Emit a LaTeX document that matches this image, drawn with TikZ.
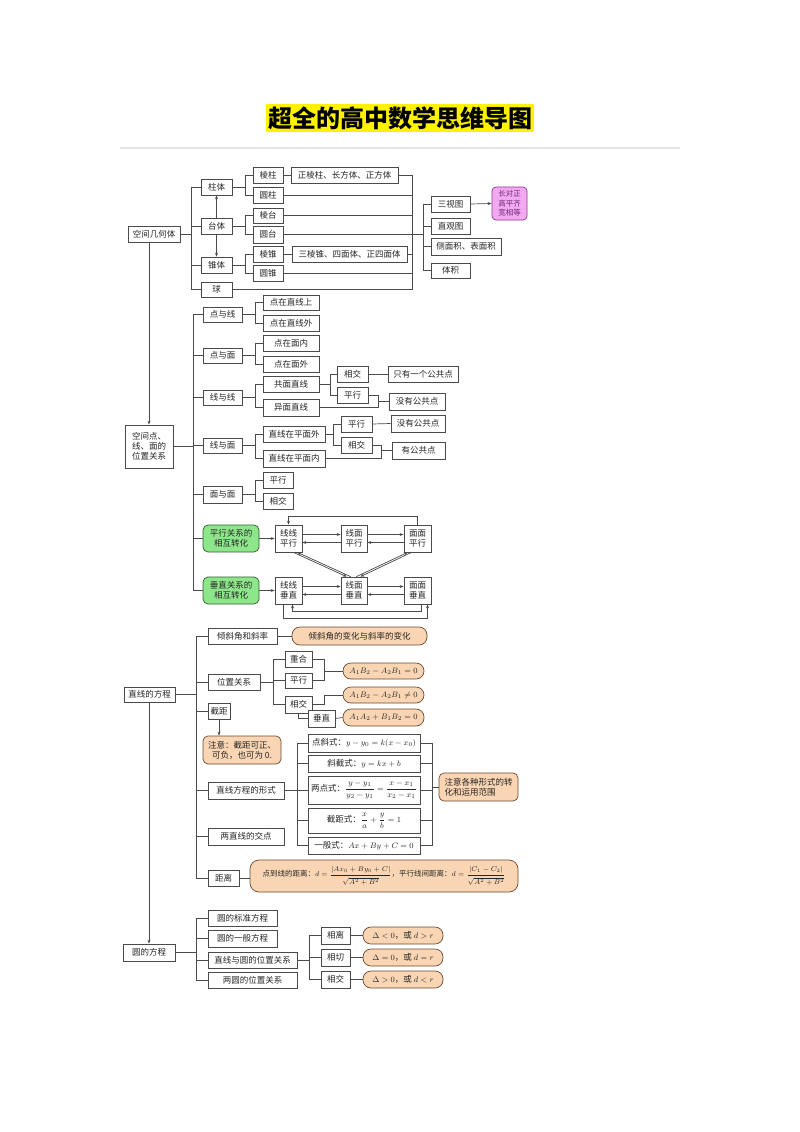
\documentclass[tikz,border=0pt]{standalone}
\usepackage[no-math]{fontspec}
\usepackage{amsmath}
\setmainfont{Noto Sans CJK SC}
\usetikzlibrary{arrows.meta}
\definecolor{ln}{HTML}{4A4A4A}
\definecolor{orf}{HTML}{F9D5B3}
\definecolor{ord}{HTML}{6B4A32}
\definecolor{grf}{HTML}{8EE68A}
\definecolor{grd}{HTML}{2E5E2E}
\definecolor{pkf}{HTML}{F3A8F2}
\definecolor{pkd}{HTML}{8E3A8C}
\tikzset{
 box/.style={draw=ln,line width=0.7pt,fill=white,inner sep=1pt,align=center,font=\fontsize{8.5}{10}\selectfont,text=black!85},
 org/.style={fill=orf,draw=ord,rounded corners=5pt},
 pill/.style={fill=orf,draw=ord,rounded corners=8pt},
 grn/.style={fill=grf,draw=grd,rounded corners=5pt},
 pnk/.style={fill=pkf,draw=pkd,rounded corners=4pt,text=pkd!80!black,font=\fontsize{7.5}{9.5}\selectfont},
 arr/.style={-{Stealth[length=4pt,width=3pt]}},
}
\newcommand\bx[7][]{\node[box,#1,minimum width={(#5-#3)*1pt},minimum height={(#6-#4)*1pt}] (#2) at ({(#3+#5)/2},{(#4+#6)/2}) {#7};}
\newcommand\tree[5]{%
 \coordinate (sp#1) at (#2,0);
 \draw (#1.east) -- (#1.east -| sp#1);
 \draw (sp#1 |- #3.west) -- (sp#1 |- #4.west);
 \foreach \cc in {#5} {\draw (sp#1 |- \cc.west) -- (\cc.west);}
}
\begin{document}
\begin{tikzpicture}[x=1pt,y=-1pt,color=ln,line width=0.7pt]
\useasboundingbox[fill=white] (0,0) rectangle (800,1132);
% title
\node[fill=yellow,inner sep=2pt,font=\fontsize{24}{26}\selectfont\bfseries,text=black] (title) at (400,118) {超全的高中数学思维导图};
\draw[gray!20,line width=1.2pt] (120,148) -- (680,148);

% ===== section 1
\bx{kj}{128}{226}{180}{242}{空间几何体}
\bx{zt}{201}{179}{232}{195}{柱体}
\bx{tt}{201}{218}{232}{234}{台体}
\bx{zht}{201}{257}{232}{273}{锥体}
\bx{qiu}{201}{282}{232}{297}{球}
\bx{lz}{253}{167}{283}{183}{棱柱}
\bx{yz}{253}{187}{283}{203}{圆柱}
\bx{lt}{253}{208}{283}{223}{棱台}
\bx{yt}{253}{226}{283}{243}{圆台}
\bx{lzh}{253}{246}{283}{262}{棱锥}
\bx{yzh}{253}{265}{283}{281}{圆锥}
\bx{lzx}{291}{167}{398}{183}{正棱柱、长方体、正方体}
\bx{lzhx}{292}{246}{407}{262}{三棱锥、四面体、正四面体}
\bx{sst}{431}{196}{470}{212}{三视图}
\bx{zgt}{431}{218}{470}{234}{直观图}
\bx{cmj}{431}{238}{501}{255}{侧面积、表面积}
\bx{tj}{431}{263}{470}{278}{体积}
\bx[pnk]{pink}{492}{187}{527}{220}{长对正\\高平齐\\宽相等}

\tree{kj}{191}{zt}{qiu}{zt,tt,zht,qiu}
\tree{zt}{245}{lz}{yz}{lz,yz}
\tree{tt}{245}{lt}{yt}{lt,yt}
\tree{zht}{245}{lzh}{yzh}{lzh,yzh}
\draw (lz.east) -- (lzx.west);
\draw (lzh.east) -- (lzhx.west);
\draw[arr] (tt.north) -- (zt.south);
\draw[arr] (tt.south) -- (zht.north);
\coordinate (rb) at (412,0);
\foreach \cc in {lzx,yz,lt,yt,lzhx,yzh,qiu} {\draw (\cc.east) -- (\cc.east -| rb);}
\draw (rb |- lzx.east) -- (rb |- qiu.east);
\coordinate (rs) at (423,0);
\draw (rb |- yt.east) -- (rs |- yt.east);
\draw (rs |- sst.west) -- (rs |- tj.west);
\foreach \cc in {sst,zgt,cmj,tj} {\draw (rs |- \cc.west) -- (\cc.west);}
\draw[arr] (sst.east) -- (pink.west);

% ===== section 2
\bx{kd}{125}{425}{173}{468}{空间点、\\线、面的\\位置关系}
\draw[arr] (kd.north |- kj.south) -- (kd.north);
\bx{dyx}{203}{307}{242}{322}{点与线}
\bx{dyxa}{263}{295}{319}{310}{点在直线上}
\bx{dyxb}{263}{315}{319}{331}{点在直线外}
\bx{dym}{203}{348}{242}{363}{点与面}
\bx{dyma}{263}{335}{319}{351}{点在面内}
\bx{dymb}{263}{356}{319}{372}{点在面外}
\bx{xyx}{203}{390}{242}{405}{线与线}
\bx{gm}{263}{376}{319}{392}{共面直线}
\bx{ym}{263}{399}{319}{416}{异面直线}
\bx{xja}{337}{366}{368}{382}{相交}
\bx{pxa}{337}{387}{368}{403}{平行}
\bx{yga}{388}{366}{458}{382}{只有一个公共点}
\bx{mga}{389}{393}{445}{410}{没有公共点}
\bx{xym}{203}{438}{242}{453}{线与面}
\bx{wai}{263}{426}{325}{442}{直线在平面外}
\bx{nei}{263}{450}{325}{467}{直线在平面内}
\bx{pxb}{341}{416}{372}{432}{平行}
\bx{xjb}{341}{437}{372}{453}{相交}
\bx{mgb}{391}{415}{445}{432}{没有公共点}
\bx{ygb}{392}{442}{445}{459}{有公共点}
\bx{mym}{203}{486}{242}{503}{面与面}
\bx{pxc}{263}{472}{293}{488}{平行}
\bx{xjc}{263}{493}{293}{509}{相交}
\bx[grn]{gp}{203}{525}{259}{552}{平行关系的\\相互转化}
\bx[grn]{gc}{203}{577}{259}{604}{垂直关系的\\相互转化}
\bx{xxp}{275}{525}{302}{552}{线线\\平行}
\bx{xmp}{341}{525}{367}{552}{线面\\平行}
\bx{mmp}{404}{525}{431}{552}{面面\\平行}
\bx{xxc}{275}{577}{302}{604}{线线\\垂直}
\bx{xmc}{341}{577}{367}{604}{线面\\垂直}
\bx{mmc}{404}{577}{431}{604}{面面\\垂直}

\tree{kd}{193}{dyx}{gc}{dyx,dym,xyx,xym,mym,gp,gc}
\tree{dyx}{255}{dyxa}{dyxb}{dyxa,dyxb}
\tree{dym}{255}{dyma}{dymb}{dyma,dymb}
\tree{xyx}{255}{gm}{ym}{gm,ym}
\tree{gm}{330}{xja}{pxa}{xja,pxa}
\draw (xja.east) -- (yga.west);
\coordinate (b378) at (378,0);
\draw (pxa.east) -- (pxa.east -| b378);
\draw (ym.east) -- (ym.east -| b378);
\draw (b378 |- pxa.east) -- (b378 |- ym.east);
\draw (b378 |- mga.west) -- (mga.west);
\tree{xym}{255}{wai}{nei}{wai,nei}
\tree{wai}{333}{pxb}{xjb}{pxb,xjb}
\draw (pxb.east) -- (mgb.west);
\coordinate (b381) at (381,0);
\draw (xjb.east) -- (xjb.east -| b381);
\draw (nei.east) -- (nei.east -| b381);
\draw (b381 |- xjb.east) -- (b381 |- nei.east);
\draw (b381 |- ygb.west) -- (ygb.west);
\tree{mym}{255}{pxc}{xjc}{pxc,xjc}

\draw[arr] (gp.east) -- (xxp.west);
\draw[arr] (gc.east) -- (xxc.west);
\foreach \a/\b in {xxp/xmp,xmp/mmp,xxc/xmc,xmc/mmc} {
  \draw[arr] ([yshift=4pt]\a.east) -- ([yshift=4pt]\b.west);
  \draw[arr] ([yshift=-4pt]\b.west) -- ([yshift=-4pt]\a.east);
}
% diagonals
\coordinate (dla) at ([xshift=-9pt]xxp.south east);
\coordinate (dlb) at ([xshift=6pt]xmc.north west);
\draw[arr] (dla) -- (dlb);
\draw[arr] ([xshift=4pt]dlb) -- ([xshift=4pt]dla);
\coordinate (dra) at ([xshift=8pt]mmp.south west);
\coordinate (drb) at ([xshift=-7pt]xmc.north east);
\draw[arr] (dra) -- (drb);
\draw[arr] ([xshift=-4pt]drb) -- ([xshift=-4pt]dra);
% loops
\coordinate (tl) at (0,516);
\draw[arr] (mmp.north) -- (mmp.north |- tl) -- (xxp.north |- tl) -- (xxp.north);
\coordinate (bo) at (0,618);
\coordinate (bi) at (0,611);
\coordinate (c1) at ([xshift=-5pt]xxc.south);
\coordinate (c2) at ([xshift=10pt]mmc.south);
\coordinate (c3) at ([xshift=4pt]mmc.south);
\coordinate (c4) at ([xshift=4pt]xxc.south);
\draw[arr] (c1) -- (c1 |- bo) -- (c2 |- bo) -- (c2);
\draw[arr] (c3) -- (c3 |- bi) -- (c4 |- bi) -- (c4);

% ===== section 3
\bx{zf}{124}{687}{175}{702}{直线的方程}
\bx{qxj}{208}{628}{277}{644}{倾斜角和斜率}
\bx[pill]{qxjb}{292}{627}{427}{645}{倾斜角的变化与斜率的变化}
\bx{wz}{208}{674}{260}{690}{位置关系}
\bx{ch}{285}{651}{312}{667}{重合}
\bx{pxd}{285}{673}{312}{688}{平行}
\bx{xjd}{285}{696}{312}{713}{相交}
\bx{cz}{308}{710}{335}{727}{垂直}
\bx[pill]{fa}{343}{663}{424}{679}{$A_1B_2-A_2B_1=0$}
\bx[pill]{fb}{343}{687}{424}{703}{$A_1B_2-A_2B_1\neq0$}
\bx[pill]{fc}{343}{709}{424}{726}{$A_1A_2+B_1B_2=0$}
\bx{jj}{208}{703}{230}{719}{截距}
\bx[org]{nta}{203}{736}{281}{764}{注意：截距可正、\\可负，也可为 0.}
\bx{xsf}{208}{782}{284}{799}{直线方程的形式}
\bx{ljd}{208}{828}{284}{845}{两直线的交点}
\bx{jl}{208}{870}{239}{886}{距离}
\bx{fm1}{308}{734}{420}{752}{点斜式：$y-y_0=k(x-x_0)$}
\bx{fm2}{308}{755}{420}{772}{斜截式：$y=kx+b$}
\bx{fm3}{308}{776}{420}{804}{两点式：$\dfrac{y-y_1}{y_2-y_1}=\dfrac{x-x_1}{x_2-x_1}$}
\bx{fm4}{308}{808}{420}{833}{截距式：$\dfrac{x}{a}+\dfrac{y}{b}=1$}
\bx{fm5}{308}{837}{420}{854}{一般式：$Ax+By+C=0$}
\bx[org,align=left]{ntb}{439}{773}{518}{801}{注意各种形式的转\\化和运用范围}
\bx[org,rounded corners=9pt,font=\fontsize{7.5}{9}\selectfont]{big}{250}{860}{518}{892}{点到线的距离：$d=\dfrac{|Ax_0+By_0+C|}{\rule{0pt}{8pt}\sqrt{A^2+B^2}}$，平行线间距离：$d=\dfrac{|C_1-C_2|}{\rule{0pt}{8pt}\sqrt{A^2+B^2}}$}

\tree{zf}{196}{qxj}{jl}{qxj,wz,jj,xsf,ljd,jl}
\draw (qxj.east) -- (qxjb.west);
\tree{wz}{273}{ch}{xjd}{ch,pxd,xjd}
\coordinate (b324) at (324,0);
\draw (ch.east) -- (ch.east -| b324);
\draw (pxd.east) -- (pxd.east -| b324);
\draw (b324 |- ch.east) -- (b324 |- pxd.east);
\draw (b324 |- fa.west) -- (fa.west);
\draw (xjd.east) -- (xjd.east -| b324) -- (b324 |- fb.west) -- (fb.west);
\draw (xjd.south) |- (cz.west);
\draw (cz.east) -- (fc.west);
\draw[arr] (jj.south) -- (jj.south |- nta.north);
\tree{xsf}{297}{fm1}{fm5}{fm1,fm2,fm3,fm4,fm5}
\coordinate (b432) at (432,0);
\foreach \cc in {fm1,fm2,fm3,fm4,fm5} {\draw (\cc.east) -- (\cc.east -| b432);}
\draw (b432 |- fm1.east) -- (b432 |- fm5.east);
\draw (b432 |- ntb.west) -- (ntb.west);
\draw (jl.east) -- (big.west |- jl.east);

% ===== section 4
\bx{yf}{123}{944}{175}{961}{圆的方程}
\draw[arr] (yf.north |- zf.south) -- (yf.north);
\bx{ba}{208}{910}{277}{926}{圆的标准方程}
\bx{bb}{208}{930}{277}{947}{圆的一般方程}
\bx{bc}{208}{952}{297}{968}{直线与圆的位置关系}
\bx{bd}{208}{972}{297}{988}{两圆的位置关系}
\bx{xl}{321}{927}{350}{944}{相离}
\bx{xq}{321}{949}{350}{966}{相切}
\bx{xje}{321}{971}{350}{988}{相交}
\bx[pill]{da}{363}{927}{443}{944}{$\Delta<0$，或 $d>r$}
\bx[pill]{db}{363}{949}{443}{966}{$\Delta=0$，或 $d=r$}
\bx[pill]{dc}{363}{971}{443}{988}{$\Delta>0$，或 $d<r$}
\tree{yf}{196}{ba}{bd}{ba,bb,bc,bd}
\tree{bc}{309}{xl}{xje}{xl,xq,xje}
\draw (xl.east) -- (da.west);
\draw (xq.east) -- (db.west);
\draw (xje.east) -- (dc.west);
\end{tikzpicture}
\end{document}
